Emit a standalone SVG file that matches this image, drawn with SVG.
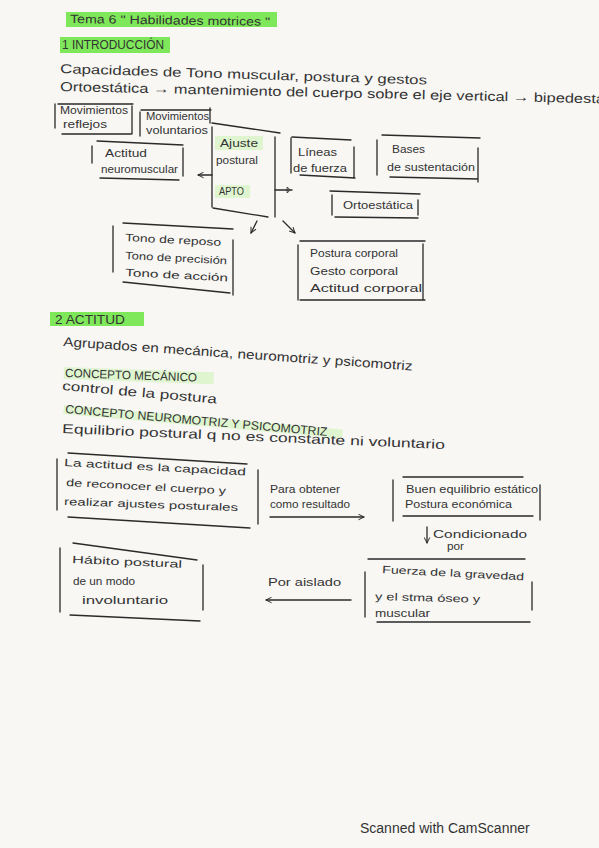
<svg xmlns="http://www.w3.org/2000/svg" width="599" height="848" viewBox="0 0 599 848">
<style>
.t{font-family:"Liberation Sans","DejaVu Sans",sans-serif;font-size:12px;fill:#333}
.s{font-size:10.5px}
.b{font-size:13px}
.ln{stroke:#2a2a2a;stroke-width:1.3;fill:none;stroke-linecap:round}
.hl{fill:#7fe85a}
.hf{fill:#dff5d0}
.cs{font-family:"Liberation Sans",Arial,sans-serif;font-size:14px;fill:#333}
</style>
<defs>
<marker id="chev" viewBox="0 0 10 10" refX="9" refY="5" markerWidth="7" markerHeight="7" orient="auto" markerUnits="userSpaceOnUse">
<path d="M1,1 L9,5 L1,9" fill="none" stroke="#2a2a2a" stroke-width="1.4"/>
</marker>
<marker id="dh" viewBox="0 0 10 10" refX="9" refY="5" markerWidth="7" markerHeight="8" orient="auto" markerUnits="userSpaceOnUse">
<path d="M2,1 Q9,5 2,9 Z" fill="none" stroke="#2a2a2a" stroke-width="1.3"/>
</marker>
</defs>
<rect width="599" height="848" fill="#f8f7f4"/>

<g id="title">
<rect class="hl" x="66" y="12" width="211" height="15"/>
<text class="t" x="70" y="23" textLength="200" lengthAdjust="spacingAndGlyphs" transform="rotate(0.8 70 23)">Tema 6 " Habilidades motrices "</text>
</g>
<g id="h1">
<rect class="hl" x="60" y="37" width="110" height="16"/>
<text class="t" x="62" y="49" textLength="102" lengthAdjust="spacingAndGlyphs">1 INTRODUCCIÓN</text>
</g>
<g id="intro">
<text class="t b" x="60" y="73" textLength="367" lengthAdjust="spacingAndGlyphs" transform="rotate(1.8 60 73)">Capacidades de Tono muscular, postura y gestos</text>
<text class="t b" x="60" y="91" textLength="545" lengthAdjust="spacingAndGlyphs" transform="rotate(1.3 60 91)">Ortoestática → mantenimiento del cuerpo sobre el eje vertical → bipedesta</text>
</g>

<g id="mov-reflejos">
<path class="ln" d="M55,104 V128 M58,104 H133 M132,106 V134 M62,134 H131"/>
<text class="t s" x="60" y="114" textLength="68" lengthAdjust="spacingAndGlyphs">Movimientos</text>
<text class="t s" x="63" y="128" textLength="44" lengthAdjust="spacingAndGlyphs">reflejos</text>
</g>
<g id="mov-voluntarios">
<path class="ln" d="M140,112 V136 M141,110 H211 M210,108 V123"/>
<text class="t s" x="146" y="120" textLength="63" lengthAdjust="spacingAndGlyphs">Movimientos</text>
<text class="t s" x="146" y="134" textLength="62" lengthAdjust="spacingAndGlyphs">voluntarios</text>
</g>
<g id="actitud-neuromuscular">
<path class="ln" d="M97,141 L183,145 M92,146 V163 M183,148 V176 M100,178 L179,180"/>
<text class="t s" x="105" y="157" textLength="42" lengthAdjust="spacingAndGlyphs">Actitud</text>
<text class="t s" x="101" y="173" textLength="77" lengthAdjust="spacingAndGlyphs">neuromuscular</text>
</g>
<g id="ajuste-apto">
<rect class="hf" x="215" y="136" width="48" height="14"/>
<rect class="hf" x="215" y="185" width="35" height="13"/>
<path class="ln" d="M212,123 L280,133 M212,127 V207 M275,137 V217 M213,208 L268,217"/>
<text class="t s" x="220" y="147" textLength="38" lengthAdjust="spacingAndGlyphs">Ajuste</text>
<text class="t s" x="216" y="164" textLength="42" lengthAdjust="spacingAndGlyphs">postural</text>
<text class="t s" x="219" y="195" textLength="25" lengthAdjust="spacingAndGlyphs">APTO</text>
</g>
<g id="lineas-fuerza">
<path class="ln" d="M291,138 V173 M292,137 L351,140 M354,147 V177 M300,175 L355,178"/>
<text class="t s" x="298" y="156" textLength="39" lengthAdjust="spacingAndGlyphs">Líneas</text>
<text class="t s" x="293" y="172" textLength="54" lengthAdjust="spacingAndGlyphs">de fuerza</text>
</g>
<g id="bases-sustentacion">
<path class="ln" d="M382,135 L480,138 M377,140 V175 M478,148 V182 M390,177 L478,179"/>
<text class="t s" x="392" y="153" textLength="33" lengthAdjust="spacingAndGlyphs">Bases</text>
<text class="t s" x="387" y="171" textLength="88" lengthAdjust="spacingAndGlyphs">de sustentación</text>
</g>
<g id="ortoestatica">
<path class="ln" d="M330,191 L420,194 M332,195 V215 M418,200 V215 M335,217 L418,218"/>
<text class="t s" x="343" y="209" textLength="70" lengthAdjust="spacingAndGlyphs">Ortoestática</text>
</g>
<g id="tonos">
<path class="ln" d="M123,223 L233,229 M113,226 V272 M233,240 V295 M123,282 L230,293"/>
<text class="t s" x="125" y="241" textLength="96" lengthAdjust="spacingAndGlyphs" transform="rotate(3 125 241)">Tono de reposo</text>
<text class="t s" x="125" y="259" textLength="102" lengthAdjust="spacingAndGlyphs" transform="rotate(3 125 259)">Tono de precisión</text>
<text class="t s" x="125" y="276" textLength="103" lengthAdjust="spacingAndGlyphs" transform="rotate(3 125 276)">Tono de acción</text>
</g>
<g id="postura-gesto-actitud">
<path class="ln" d="M300,241 H425 M298,245 V300 M423,244 V299 M300,300 H425"/>
<text class="t s" x="310" y="257" textLength="88" lengthAdjust="spacingAndGlyphs">Postura corporal</text>
<text class="t s" x="310" y="275" textLength="88" lengthAdjust="spacingAndGlyphs">Gesto corporal</text>
<text class="t s" x="310" y="292" textLength="112" lengthAdjust="spacingAndGlyphs">Actitud corporal</text>
</g>

<g id="h2">
<rect class="hl" x="50" y="312" width="94" height="14"/>
<text class="t" x="55" y="324" textLength="70" lengthAdjust="spacingAndGlyphs">2 ACTITUD</text>
</g>
<g id="actitud-text">
<text class="t b" x="63" y="346" textLength="350" lengthAdjust="spacingAndGlyphs" transform="rotate(4 63 346)">Agrupados en mecánica, neuromotriz y psicomotriz</text>
<rect class="hf" x="64" y="367" width="150" height="12" transform="rotate(2 64 367)"/>
<text class="t" x="65" y="377" textLength="132" lengthAdjust="spacingAndGlyphs" transform="rotate(2 65 377)">CONCEPTO MECÁNICO</text>
<text class="t b" x="62" y="390" textLength="155" lengthAdjust="spacingAndGlyphs" transform="rotate(5 62 390)">control de la postura</text>
<rect class="hf" x="64" y="405" width="280" height="9" transform="rotate(5 64 405)"/>
<text class="t" x="65" y="413" textLength="263" lengthAdjust="spacingAndGlyphs" transform="rotate(5 65 413)">CONCEPTO NEUROMOTRIZ Y PSICOMOTRIZ</text>
<text class="t b" x="62" y="433" textLength="383" lengthAdjust="spacingAndGlyphs" transform="rotate(2.4 62 433)">Equilibrio postural q no es constante ni voluntario</text>
</g>

<g id="actitud-capacidad">
<path class="ln" d="M68,453 L247,464 M57,459 V510 M258,470 V524 M68,517 L250,528"/>
<text class="t s" x="64" y="466" textLength="182" lengthAdjust="spacingAndGlyphs" transform="rotate(3 64 466)">La actitud es la capacidad</text>
<text class="t s" x="66" y="486" textLength="160" lengthAdjust="spacingAndGlyphs" transform="rotate(3 66 486)">de reconocer el cuerpo y</text>
<text class="t s" x="64" y="505" textLength="174" lengthAdjust="spacingAndGlyphs" transform="rotate(2 64 505)">realizar ajustes posturales</text>
</g>
<g id="label-para-obtener">
<text class="t s" x="270" y="493" textLength="70" lengthAdjust="spacingAndGlyphs">Para obtener</text>
<text class="t s" x="270" y="508" textLength="80" lengthAdjust="spacingAndGlyphs">como resultado</text>
</g>
<g id="buen-equilibrio">
<path class="ln" d="M403,477 H523 M393,480 V521 M540,485 V520 M403,516 H533"/>
<text class="t s" x="406" y="493" textLength="132" lengthAdjust="spacingAndGlyphs">Buen equilibrio estático</text>
<text class="t s" x="405" y="508" textLength="107" lengthAdjust="spacingAndGlyphs">Postura económica</text>
</g>
<g id="label-condicionado">
<text class="t s" x="433" y="538" textLength="94" lengthAdjust="spacingAndGlyphs">Condicionado</text>
<text class="t s" x="447" y="550" textLength="17" lengthAdjust="spacingAndGlyphs">por</text>
</g>
<g id="fuerza-gravedad">
<path class="ln" d="M368,559 H525 M365,572 V617 M532,582 V610 M377,622 H530"/>
<text class="t s" x="382" y="573" textLength="142" lengthAdjust="spacingAndGlyphs" transform="rotate(3 382 573)">Fuerza de la gravedad</text>
<text class="t s" x="375" y="600" textLength="105" lengthAdjust="spacingAndGlyphs" transform="rotate(1.5 375 600)">y el stma óseo y</text>
<text class="t s" x="375" y="617" textLength="55" lengthAdjust="spacingAndGlyphs">muscular</text>
</g>
<g id="label-por-aislado">
<text class="t s" x="268" y="586" textLength="73" lengthAdjust="spacingAndGlyphs">Por aislado</text>
</g>
<g id="habito-postural">
<path class="ln" d="M73,543 L197,560 M60,548 V612 M203,565 V610 M70,615 L200,621"/>
<text class="t s" x="72" y="563" textLength="110" lengthAdjust="spacingAndGlyphs" transform="rotate(2.5 72 563)">Hábito postural</text>
<text class="t s" x="73" y="585" textLength="62" lengthAdjust="spacingAndGlyphs">de un modo</text>
<text class="t s" x="82" y="604" textLength="86" lengthAdjust="spacingAndGlyphs">involuntario</text>
</g>

<g id="connectors">
<path class="ln" d="M212,175 H198" marker-end="url(#chev)"/>
<path class="ln" d="M275,190 H292" marker-end="url(#dh)"/>
<path class="ln" d="M257,221 L251,233" marker-end="url(#chev)"/>
<path class="ln" d="M283,221 L295,233" marker-end="url(#chev)"/>
<path class="ln" d="M270,517 H364" marker-end="url(#chev)"/>
<path class="ln" d="M427,527 V543" marker-end="url(#chev)"/>
<path class="ln" d="M351,600 H266" marker-end="url(#chev)"/>
</g>

<text class="cs" x="360" y="833">Scanned with CamScanner</text>
</svg>
